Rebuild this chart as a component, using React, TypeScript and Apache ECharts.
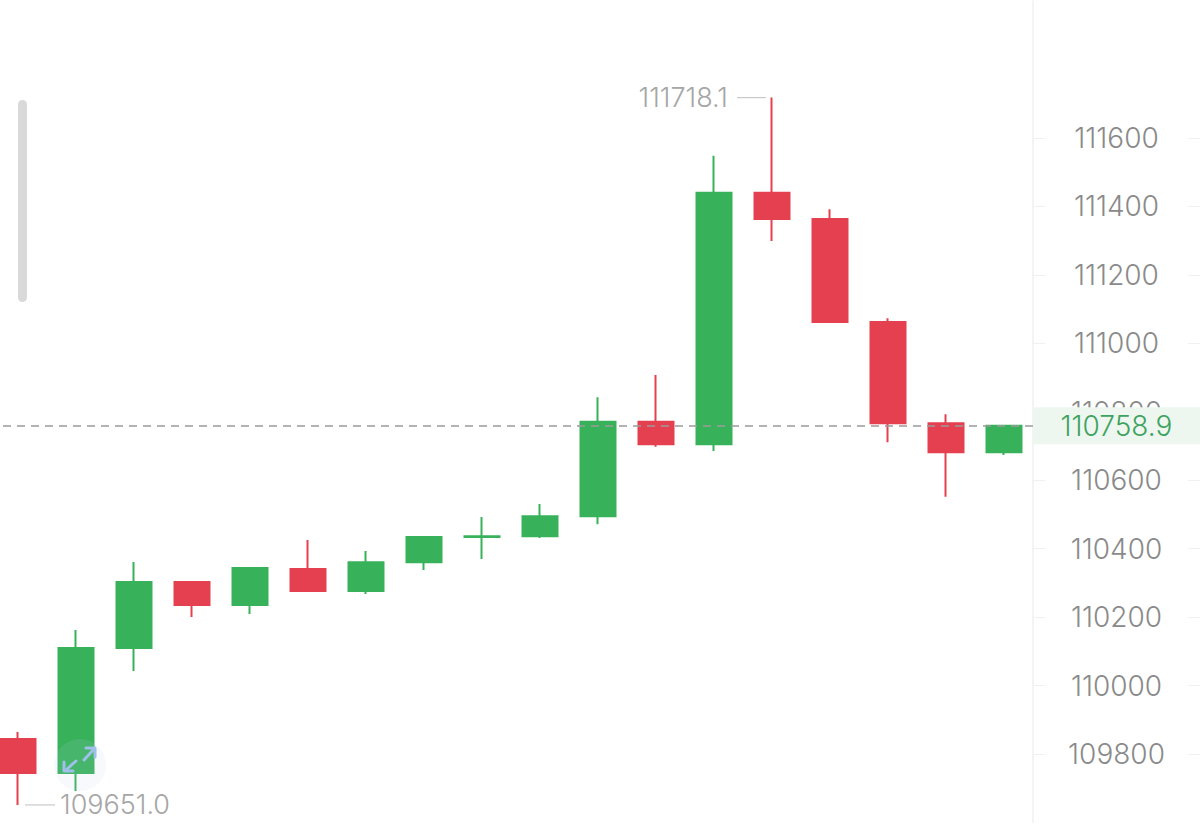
import React, { useEffect, useRef } from "react";
import * as echarts from "echarts";

const categories = ["1", "2", "3", "4", "5", "6", "7", "8", "9", "10", "11", "12", "13", "14", "15", "16", "17", "18"];
const openValues = [109843.9, 109744.5, 110109.8, 110302.6, 110235.4, 110340.6, 110276.3, 110360.2, 110434.1, 110436.5, 110494.6, 110771.0, 110704.9, 111440.2, 111363.3, 111062.4, 110766.3, 110681.6];
const closeValues = [109744.5, 110109.8, 110302.6, 110235.4, 110343.5, 110276.3, 110360.2, 110434.1, 110436.5, 110494.6, 110771.0, 110704.9, 111440.2, 111363.3, 111062.4, 110766.3, 110681.6, 110758.9];
const lowValues = [109651.0, 109691.9, 110042.6, 110200.4, 110209.1, 110275.0, 110267.5, 110337.7, 110369.8, 110431.0, 110471.2, 110698.0, 110685.4, 111299.0, 111059.0, 110710.8, 110551.9, 110673.7];
const highValues = [109864.3, 110162.4, 110361.1, 110305.0, 110345.0, 110425.4, 110393.2, 110436.0, 110492.6, 110530.5, 110842.3, 110907.5, 111548.3, 111718.1, 111391.7, 111073.2, 110792.6, 110760.0];
const tickValues = [109800, 110000, 110200, 110400, 110600, 110800, 111000, 111200, 111400, 111600];
const lastPrice = 110758.9;

const UP = "#38b25a";
const DOWN = "#e5404f";
const FONT = "Inter";
const OFF = 11; // chart div starts 11px left of the page

export default function App() {
  const ref = useRef<HTMLDivElement>(null);
  useEffect(() => {
    if (!ref.current) return;
    const chart = echarts.init(ref.current, null, { renderer: "svg" });
    const data = categories.map((_, i) => [openValues[i], closeValues[i], lowValues[i], highValues[i]]);
    chart.setOption({
      animation: false,
      backgroundColor: "#ffffff",
      grid: { left: 0, right: 167, top: 1.1, bottom: 5.6 },
      xAxis: {
        type: "category",
        data: categories,
        boundaryGap: true,
        axisLine: { show: false },
        axisTick: { show: false },
        axisLabel: { show: false },
        splitLine: { show: false },
      },
      yAxis: {
        type: "value",
        position: "right",
        min: 109600,
        max: 112000,
        interval: 200,
        scale: true,
        axisLine: { show: true, lineStyle: { color: "#f0f0f0", width: 1.5 } },
        axisTick: { show: true, inside: false, length: 167, customValues: tickValues, lineStyle: { color: "#f0f0f0", width: 1 } },
        splitLine: { show: false },
        axisLabel: {
          customValues: tickValues,
          formatter: (v: number) => String(v),
          color: "#8a8a8a",
          fontSize: 28,
          fontFamily: FONT,
          fontWeight: 300,
          margin: 83.5,
          align: "center",
          width: 143,
          backgroundColor: "#ffffff",
          padding: [2, 0, 2, 0],
        },
      },
      series: [
        {
          type: "candlestick",
          data,
          barWidth: 36,
          clip: false,
          itemStyle: { color: UP, color0: DOWN, borderColor: UP, borderColor0: DOWN, borderWidth: 2 },
          markLine: {
            silent: true,
            symbol: "none",
            label: { show: false },
            lineStyle: { color: "#9a9a9a", type: [8, 6], width: 1.5 },
            data: [{ yAxis: lastPrice }],
          },
        },
      ],
    });

    // Annotations positioned through the chart's own scales
    let hiIdx = 0, loIdx = 0;
    highValues.forEach((v, i) => { if (v > highValues[hiIdx]) hiIdx = i; });
    lowValues.forEach((v, i) => { if (v < lowValues[loIdx]) loIdx = i; });
    const hp = chart.convertToPixel({ gridIndex: 0 }, [hiIdx, highValues[hiIdx]]) as number[];
    const lp = chart.convertToPixel({ gridIndex: 0 }, [loIdx, lowValues[loIdx]]) as number[];
    const pp = chart.convertToPixel({ gridIndex: 0 }, [0, lastPrice]) as number[];
    const W = 1200 + OFF;
    const gridRight = W - 167;

    chart.setOption({
      graphic: [
        { type: "rect", shape: { x: 18 + OFF, y: 100, width: 9, height: 202, r: 4.5 }, style: { fill: "#d9d9d9" }, z: 10 },
        { type: "line", shape: { x1: hp[0] - 35, y1: hp[1], x2: hp[0] - 6, y2: hp[1] }, style: { stroke: "#c8c8c8", lineWidth: 1.2 }, z: 10 },
        { type: "text", x: hp[0] - 44, y: hp[1], style: { text: highValues[hiIdx].toFixed(1), fill: "#a6a6a6", fontSize: 27, fontFamily: FONT, fontWeight: 300, align: "right", verticalAlign: "middle" }, z: 10 },
        { type: "line", shape: { x1: lp[0] + 7, y1: lp[1], x2: lp[0] + 37, y2: lp[1] }, style: { stroke: "#c8c8c8", lineWidth: 1.2 }, z: 10 },
        { type: "text", x: lp[0] + 42, y: lp[1], style: { text: lowValues[loIdx].toFixed(1), fill: "#a6a6a6", fontSize: 27, fontFamily: FONT, fontWeight: 300, align: "left", verticalAlign: "middle" }, z: 10 },
        { type: "rect", shape: { x: gridRight, y: pp[1] - 18.5, width: W - gridRight, height: 37 }, style: { fill: "#edf7f0" }, z: 20 },
        { type: "text", x: (gridRight + W) / 2, y: pp[1], style: { text: lastPrice.toFixed(1), fill: "#3ea35f", fontSize: 28, fontFamily: FONT, fontWeight: 300, align: "center", verticalAlign: "middle" }, z: 21 },
        // expand icon
        { type: "circle", shape: { cx: 80 + OFF, cy: 765, r: 26 }, style: { fill: "rgba(190,205,235,0.12)" }, z: 15 },
        { type: "line", shape: { x1: 84 + OFF, y1: 760, x2: 94 + OFF, y2: 749 }, style: { stroke: "#9fc0e8", lineWidth: 3, lineCap: "round" }, z: 16 },
        { type: "polyline", shape: { points: [[86 + OFF, 748], [95 + OFF, 748], [95 + OFF, 757]] }, style: { stroke: "#9fc0e8", lineWidth: 3, fill: "none", lineCap: "round", lineJoin: "round" }, z: 16 },
        { type: "line", shape: { x1: 66 + OFF, y1: 770, x2: 76 + OFF, y2: 761 }, style: { stroke: "#9fc0e8", lineWidth: 3, lineCap: "round" }, z: 16 },
        { type: "polyline", shape: { points: [[64 + OFF, 762], [64 + OFF, 771], [73 + OFF, 771]] }, style: { stroke: "#9fc0e8", lineWidth: 3, fill: "none", lineCap: "round", lineJoin: "round" }, z: 16 },
      ],
    });
    return () => chart.dispose();
  }, []);
  return <div ref={ref} style={{ position: "fixed", left: -OFF, top: 0, width: 1200 + OFF, height: 828 }} />;
}
